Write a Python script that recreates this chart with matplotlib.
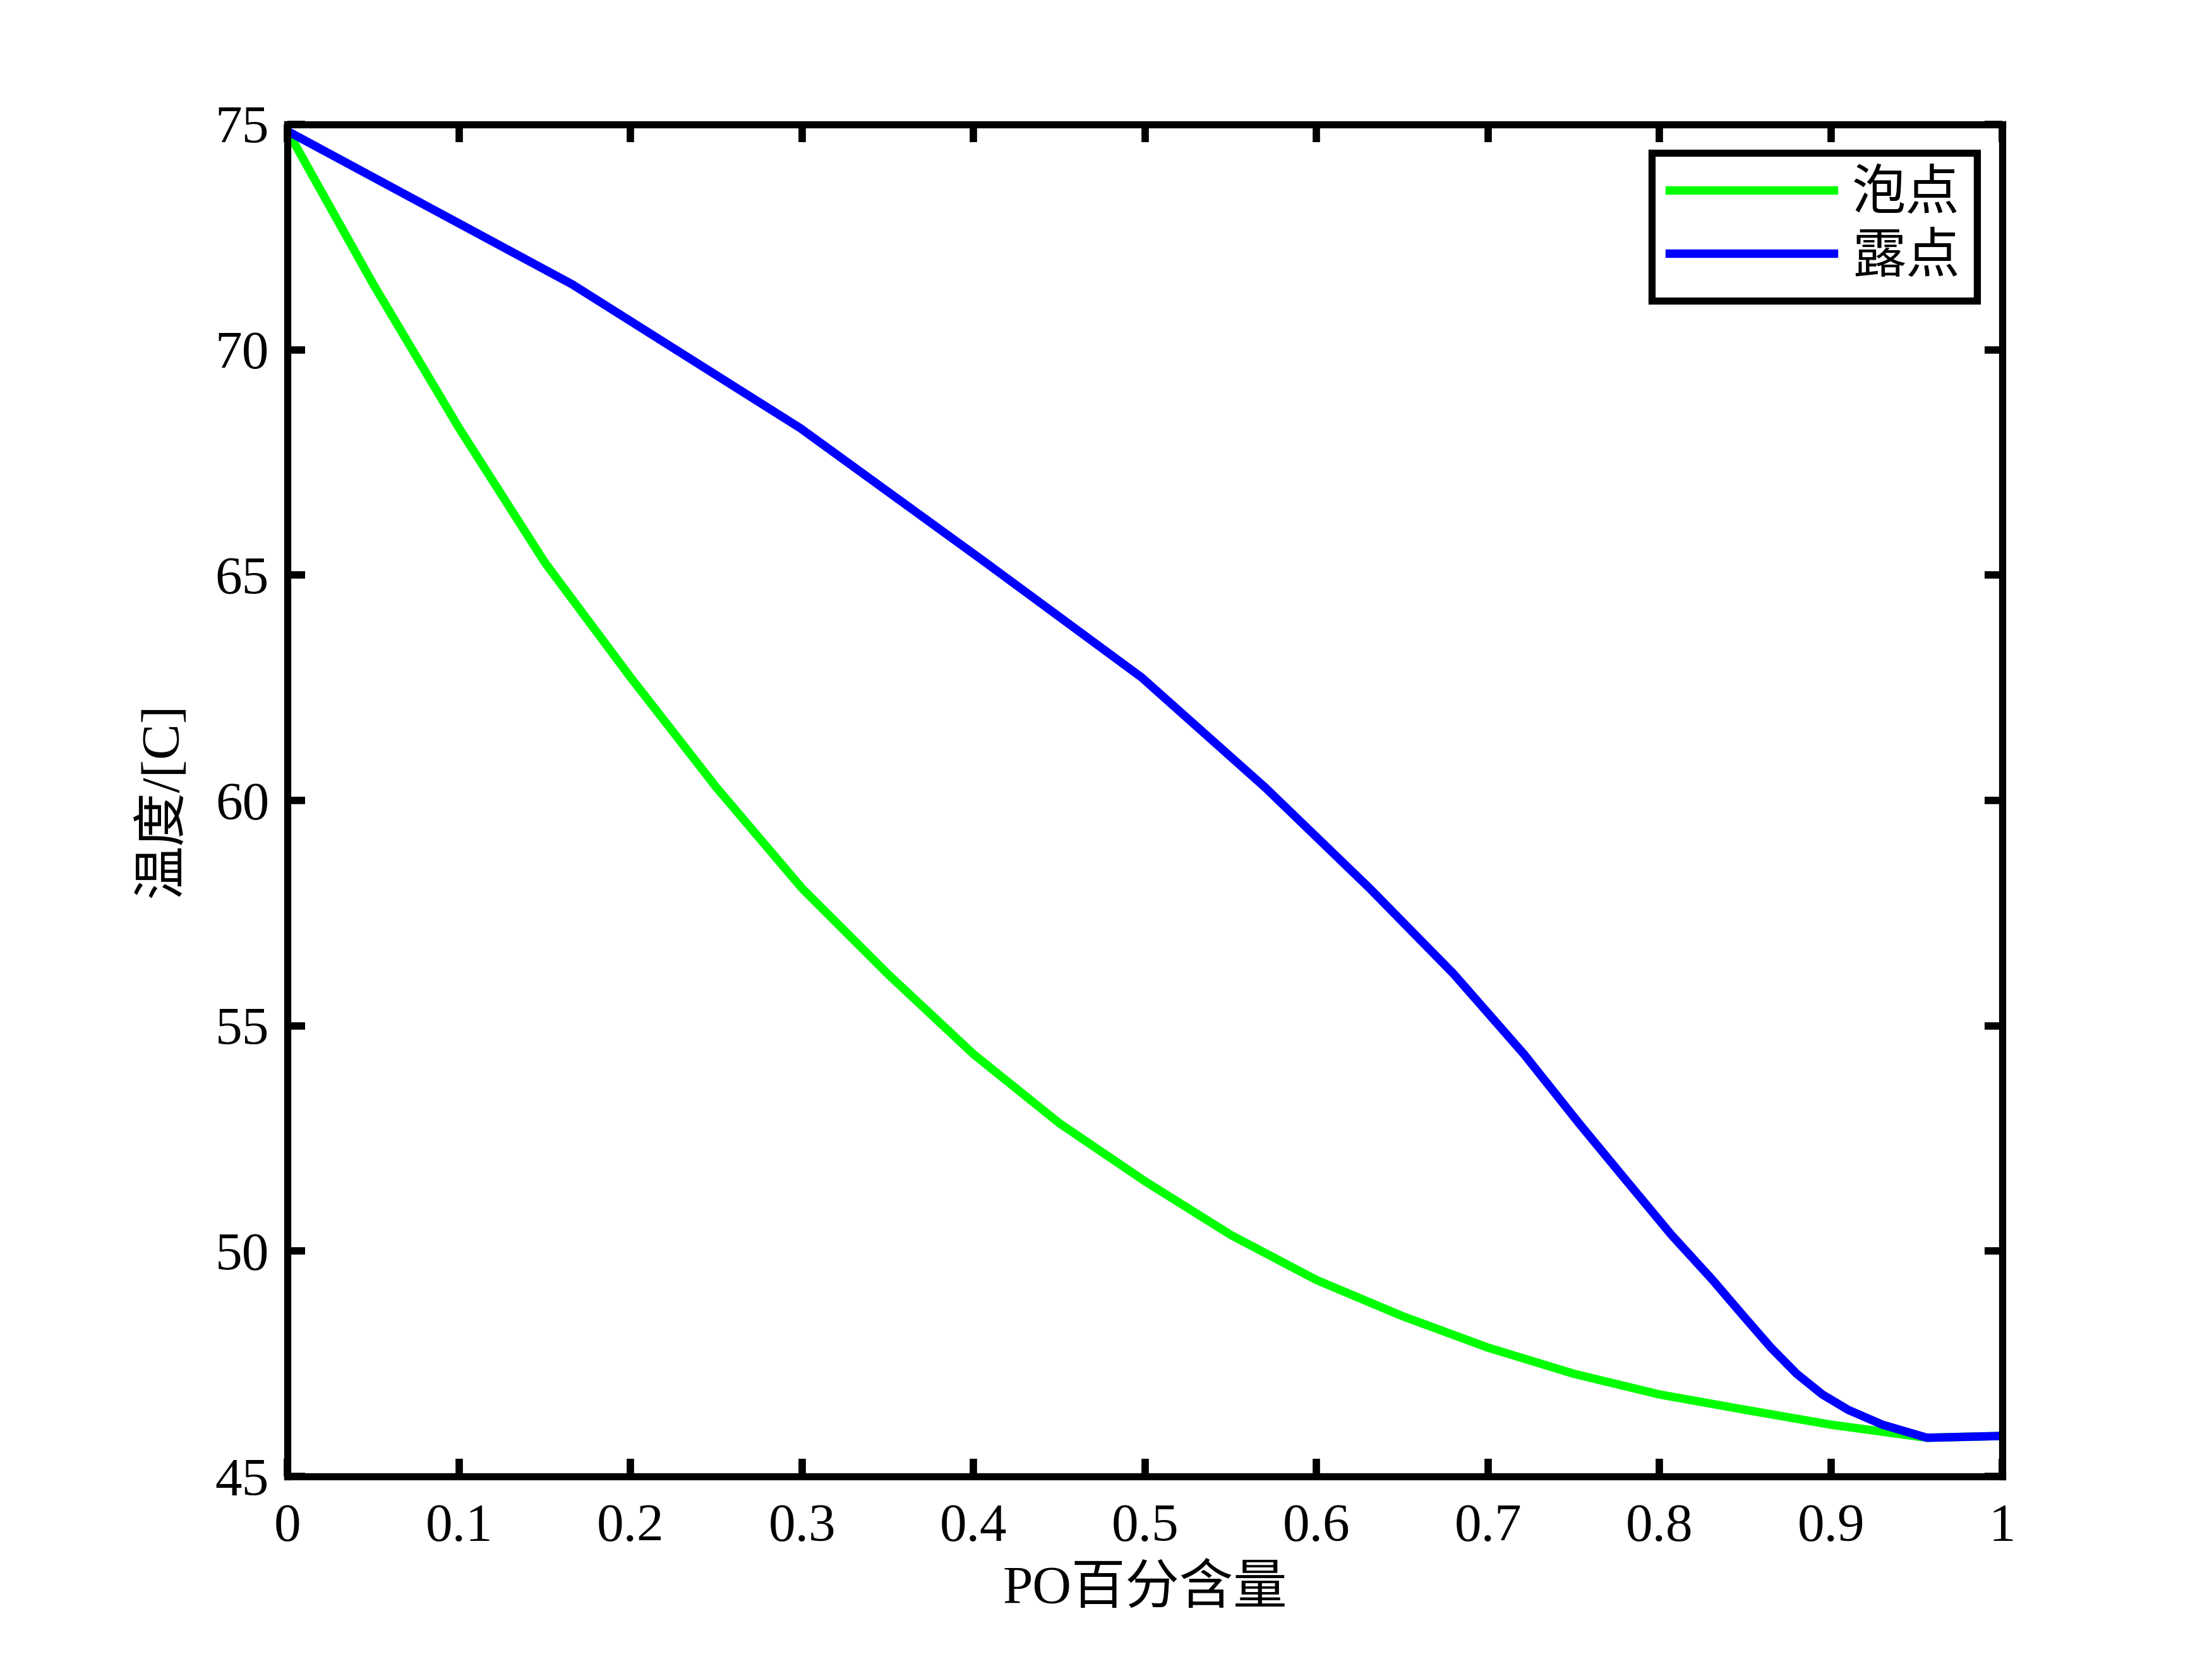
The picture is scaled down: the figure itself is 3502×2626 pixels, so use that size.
import matplotlib
matplotlib.use("Agg")
import matplotlib.pyplot as plt

plt.rcParams['font.family'] = ['Liberation Serif', 'Noto Sans CJK SC', 'DejaVu Sans']

# bubble point: liquid composition vs temperature
x_liquid = [0.0, 0.05, 0.10, 0.15, 0.20, 0.25, 0.30, 0.35, 0.40, 0.45, 0.50,
            0.55, 0.60, 0.65, 0.70, 0.75, 0.80, 0.85, 0.90, 0.956, 1.0]
temp = [74.85, 71.45, 68.26, 65.28, 62.73, 60.29, 58.05, 56.15, 54.37, 52.84, 51.55,
        50.36, 49.36, 48.56, 47.86, 47.28, 46.82, 46.48, 46.15, 45.86, 45.90]
# dew point: vapour composition at the same temperatures
y_vapor = [0.0, 0.166, 0.299, 0.407, 0.498, 0.570, 0.631, 0.680, 0.721, 0.753, 0.781,
           0.807, 0.831, 0.849, 0.865, 0.880, 0.895, 0.910, 0.930, 0.956, 1.0]

xticks = [0, 0.1, 0.2, 0.3, 0.4, 0.5, 0.6, 0.7, 0.8, 0.9, 1]
xticklabels = ['0', '0.1', '0.2', '0.3', '0.4', '0.5', '0.6', '0.7', '0.8', '0.9', '1']
yticks = [45, 50, 55, 60, 65, 70, 75]

fig = plt.figure(figsize=(3503 / 300, 2626 / 300), dpi=300)
ax = fig.add_axes([0.13, 0.11, 0.775, 0.815])

ax.plot(x_liquid, temp, color=(0, 1, 0), lw=3.2, label='泡点')
ax.plot(y_vapor, temp, color=(0, 0, 1), lw=3.2, label='露点')

ax.set_xlim(0, 1)
ax.set_ylim(45, 75)
ax.set_xticks(xticks)
ax.set_xticklabels(xticklabels)
ax.set_yticks(yticks)

for s in ax.spines.values():
    s.set_linewidth(2.7)
ax.tick_params(direction='in', top=True, right=True, length=6.7, width=2.8,
               labelsize=20.5)
ax.tick_params(axis='x', pad=10.3)
ax.tick_params(axis='y', pad=7.0)

ax.set_xlabel('PO百分含量', fontsize=20.5, labelpad=5)
ax.set_ylabel('温度/[C]', fontsize=20.5, labelpad=10)

leg = ax.legend(loc='upper right', bbox_to_anchor=(0.9853, 0.979), borderaxespad=0,
                fontsize=20.5, fancybox=False, framealpha=1, edgecolor='black',
                handlelength=3.05, handletextpad=0.34, borderpad=0.32, labelspacing=0.24)
leg.get_frame().set_linewidth(2.7)

fig.savefig('out.png', dpi=300, facecolor='white')
